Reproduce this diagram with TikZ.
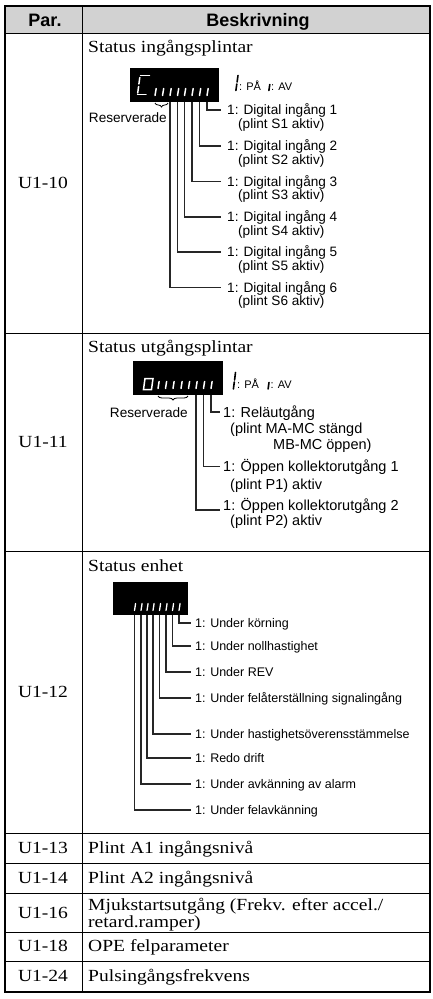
\documentclass[tikz,border=0pt]{standalone}
\usepackage{fontspec}
\setmainfont{Liberation Serif}[FakeStretch=1.15]
\newfontfamily\sansf{Liberation Sans}
\usetikzlibrary{decorations.pathreplacing,calc}
\definecolor{hdrgray}{RGB}{210,210,210}
\tikzset{
  grid/.style={line width=1pt, black},
  outer/.style={line width=1.4pt, black},
  ser/.style={font=\fontsize{17}{20}\selectfont, inner sep=0pt, text height=11.2pt, text depth=0pt},
  serw/.style={ser, anchor=west},
  hdr/.style={font=\sansf\bfseries\fontsize{18}{21}\selectfont, inner sep=0pt, text height=12.9pt, text depth=0pt},
  lblA/.style={font=\sansf\fontsize{13.6}{16}\selectfont, anchor=west, inner xsep=6pt, inner ysep=0pt, text height=9.7pt, text depth=0pt},
  lblAs/.style={lblA, inner xsep=0pt},
  lblB/.style={font=\sansf\fontsize{14.5}{17}\selectfont, anchor=west, inner xsep=3pt, inner ysep=0pt, text height=10.4pt, text depth=0pt},
  lblBs/.style={lblB, inner xsep=0pt},
  lblC/.style={font=\sansf\fontsize{12.5}{15}\selectfont, anchor=west, inner xsep=4pt, inner ysep=0pt, text height=8.9pt, text depth=0pt},
  lgd/.style={font=\sansf\fontsize{11}{13}\selectfont, anchor=west, inner sep=0pt, text height=7.9pt, text depth=0pt},
  resv/.style={font=\sansf\fontsize{13.6}{16}\selectfont, anchor=east, inner sep=0pt, text height=9.7pt, text depth=0pt},
  conn/.style={line width=1.1pt, black!85},
  seg/.style={white, line width=1.5pt, line cap=round},
  bseg/.style={black, line width=1.6pt, line cap=round},
  lcd/.style={fill=black, draw=none, inner sep=0pt},
  brc/.style={line width=0.8pt, black, decorate, decoration={brace, amplitude=4pt, mirror}},
}
\begin{document}
\begin{tikzpicture}[x=1pt,y=-1pt]
\useasboundingbox (0,0) rectangle (432,999);
\fill[white] (0,0) rectangle (432,999);
% table
\fill[hdrgray] (5,6) rectangle (430,33);
\foreach \yy in {33,333,551,833,863,893,932,961}
  \draw[grid] (5,\yy) -- (430,\yy);
\draw[grid] (82,6) -- (82,992);
\draw[outer] (5,6) rectangle (430,992);
\node[hdr] (hpar) at (45,20) {Par.};
\node[hdr] (hbes) at (258,20) {Beskrivning};
% parameter names
\node[ser] (p10) at (43,183) {U1-10};
\node[ser] (p11) at (43,442) {U1-11};
\node[ser] (p12) at (43,692) {U1-12};
\node[ser] (p13) at (43,848) {U1-13};
\node[ser] (p14) at (43,878) {U1-14};
\node[ser] (p16) at (43,913) {U1-16};
\node[ser] (p18) at (43,946) {U1-18};
\node[ser] (p24) at (43,976) {U1-24};
% simple descriptions
\node[serw] (t13) at (88,848) {Plint A1 ingångsnivå};
\node[serw] (t14) at (88,878) {Plint A2 ingångsnivå};
\node[serw] (t16a) at (88,905) {Mjukstartsutgång (Frekv. efter accel./};
\node[serw] (t16b) at (88,922) {retard.ramper)};
\node[serw] (t18) at (88,946) {OPE felparameter};
\node[serw] (t24) at (88,976) {Pulsingångsfrekvens};

% ---------------- U1-10
\node[serw] (t10) at (88,47) {Status ingångsplintar};
\node[lcd, minimum width=89pt, minimum height=34pt] (disp1) at (174.5,85) {};
\draw[seg] (140.5,75.5) -- (149.5,75.5);
\draw[seg] (139.8,77.5) -- (138.9,84);
\draw[seg] (138.6,86.5) -- (137.7,93);
\draw[seg] (137.6,94.5) -- (146,94.5);
\foreach \x in {155,162.5,170,177.5,184.5,192,199.5,207}
  \draw[seg] (\x+1.2,88.5) -- (\x,95.5);
\draw[bseg] (238,75.5) -- (237.1,82);
\draw[bseg] (236.8,84) -- (235.9,90.5);
\node[lgd] (on1) at (239,86.5) {: PÅ};
\draw[bseg] (269.8,84.5) -- (268.9,90.5);
\node[lgd] (off1) at (271,86.5) {: AV};
\draw[brc] (155,103) -- (168,103);
\node[resv] (res1) at (167,118) {Reserverade};
\foreach \i/\x/\y in {1/207/110, 2/199.5/146, 3/192/181.5, 4/184.5/217, 5/177.5/252, 6/170/287.5}{
  \coordinate (a\i) at (\x,102);
  \node[lblA] (d\i) at (221,\y) {1: Digital ingång \i};
  \node[lblAs] (q\i) at (238,\y+13.2) {(plint S\i{} aktiv)};
  \draw[conn] (a\i) |- (d\i.west);
}

% ---------------- U1-11
\node[serw] (t11) at (88,347) {Status utgångsplintar};
\node[lcd, minimum width=90pt, minimum height=34pt] (disp2) at (178,378) {};
\draw[seg] (145,378.5) -- (153,378.5) -- (151.5,389.5) -- (143.5,389.5) -- cycle;
\foreach \x in {158,165.5,173,181,188.5,196,203.5,211}
  \draw[seg] (\x+1.1,381.5) -- (\x,388.5);
\draw[bseg] (235.5,372.5) -- (234.6,380);
\draw[bseg] (234.3,382) -- (233.4,389);
\node[lgd] (on2) at (237,384.5) {: PÅ};
\draw[bseg] (269,382.5) -- (268.1,389);
\node[lgd] (off2) at (270.5,384.5) {: AV};
\draw[brc] (158,396) -- (188,396);
\node[resv] (res2) at (188,413) {Reserverade};
\coordinate (b1) at (211,395);
\coordinate (b2) at (203.5,395);
\coordinate (b3) at (196,395);
\node[lblB] (e1) at (220,412) {1: Reläutgång};
\node[lblBs] (e1b) at (230,428.5) {(plint MA-MC stängd};
\node[lblBs] (e1c) at (273,444) {MB-MC öppen)};
\node[lblB] (e2) at (220,466.5) {1: Öppen kollektorutgång 1};
\node[lblBs] (e2b) at (230,484) {(plint P1) aktiv};
\node[lblB] (e3) at (220,505) {1: Öppen kollektorutgång 2};
\node[lblBs] (e3b) at (230,520) {(plint P2) aktiv};
\draw[conn] (b1) |- (e1.west);
\draw[conn] (b2) |- (e2.west);
\draw[conn] (b3) |- ($(e3.west)+(0,5)$);

% ---------------- U1-12
\node[serw] (t12) at (88,566) {Status enhet};
\node[lcd, minimum width=75pt, minimum height=33pt] (disp3) at (150.5,598.5) {};
\foreach \i/\x/\y/\t in {1/179/623/{1: Under körning},
                         2/172.5/646/{1: Under nollhastighet},
                         3/166/672/{1: Under REV},
                         4/159.5/698/{1: Under felåterställning signalingång},
                         5/153/734/{1: Under hastighetsöverensstämmelse},
                         6/147/758/{1: Redo drift},
                         7/141/784/{1: Under avkänning av alarm},
                         8/134.5/810/{1: Under felavkänning}}{
  \draw[seg, line width=1.3pt] (\x+1.1,603.5) -- (\x,610.5);
  \coordinate (c\i) at (\x,615);
  \node[lblC] (f\i) at (191,\y) {\t};
  \draw[conn] (c\i) |- (f\i.west);
}
\end{tikzpicture}
\end{document}
